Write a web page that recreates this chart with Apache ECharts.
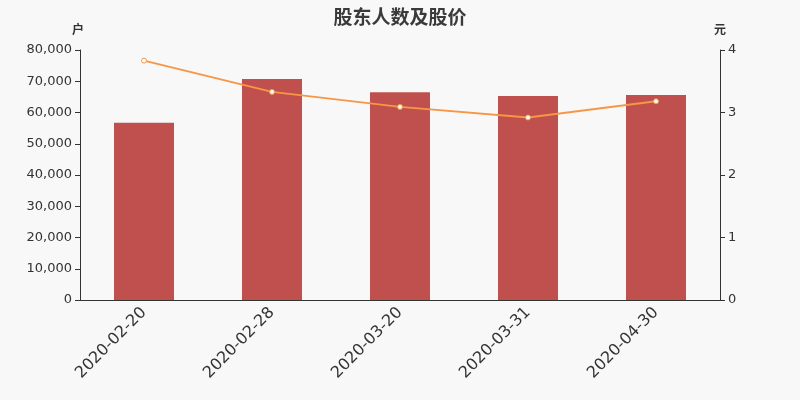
<!DOCTYPE html>
<html><head><meta charset="utf-8">
<script src="https://cdn.jsdelivr.net/npm/echarts@6/dist/echarts.min.js"></script>
<style>html,body{margin:0;padding:0;background:#f8f8f8}#c{width:800px;height:400px}</style>
</head><body><div id="c"></div>
<script>
var categories = ['2020-02-20','2020-02-28','2020-03-20','2020-03-31','2020-04-30'];
var holders = [56700, 70700, 66500, 65300, 65600];
var prices = [3.83, 3.33, 3.09, 2.92, 3.18];

var chart = echarts.init(document.getElementById('c'));
chart.setOption({
  backgroundColor: '#f8f8f8',
  animation: false,
  textStyle: {fontFamily: 'DejaVu Sans'},
  title: {text: '股东人数及股价', left: 'center', top: 2,
    textStyle: {fontSize: 19, fontWeight: 'bold', color: '#3a3a3a', fontFamily: 'Noto Sans CJK SC'}},
  grid: {left: 80, right: 80, top: 50, bottom: 100},
  xAxis: {type: 'category', data: categories,
    axisLine: {lineStyle: {color: '#333'}},
    axisTick: {alignWithLabel: false},
    axisLabel: {rotate: 45, fontSize: 16, color: '#333', margin: 10, fontFamily: 'DejaVu Sans'}},
  yAxis: [
    {type: 'value', name: '户', min: 0, max: 80000, interval: 10000,
      nameTextStyle: {color: '#333', fontSize: 12, fontWeight: 'bold', padding: [0, 0, 0, -4], fontFamily: 'Noto Sans CJK SC'},
      splitLine: {show: false},
      axisLine: {show: true, lineStyle: {color: '#333'}},
      axisTick: {show: true},
      axisLabel: {color: '#333', fontSize: 13, fontFamily: 'DejaVu Sans', formatter: function(v){return v.toLocaleString('en-US');}}},
    {type: 'value', name: '元', min: 0, max: 4, interval: 1,
      nameTextStyle: {color: '#333', fontSize: 12, fontWeight: 'bold', padding: [0, 0, 0, 0], fontFamily: 'Noto Sans CJK SC'},
      splitLine: {show: false},
      axisLine: {show: true, lineStyle: {color: '#333'}},
      axisTick: {show: true},
      axisLabel: {color: '#333', fontSize: 13, fontFamily: 'DejaVu Sans'}}
  ],
  series: [
    {type: 'bar', data: holders, barWidth: 60, itemStyle: {color: '#c0504d'}},
    {type: 'line', yAxisIndex: 1, data: prices, symbol: 'circle', symbolSize: 5,
      lineStyle: {color: '#f79646', width: 2},
      itemStyle: {color: '#ffffff', borderColor: '#f79646', borderWidth: 1}}
  ]
});
</script></body></html>
